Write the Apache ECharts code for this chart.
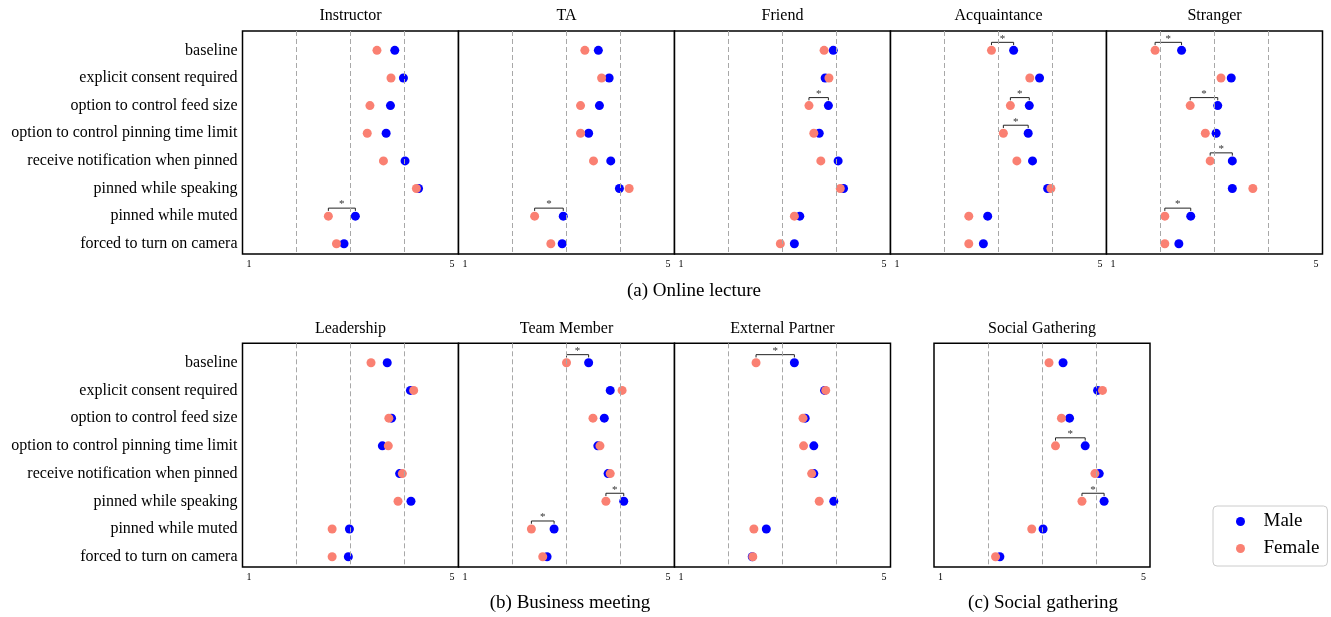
<!DOCTYPE html>
<html>
<head>
<meta charset="utf-8">
<script src="https://cdn.jsdelivr.net/npm/echarts@6/dist/echarts.min.js"></script>
<style>
  html, body { margin: 0; padding: 0; background: #fff; }
  #chart { width: 1331px; height: 617px; }
</style>
</head>
<body>
<div id="chart"></div>
<script>
// Rating statements (rows, top to bottom)
const categories = [
  'baseline',
  'explicit consent required',
  'option to control feed size',
  'option to control pinning time limit',
  'receive notification when pinned',
  'pinned while speaking',
  'pinned while muted',
  'forced to turn on camera'
];
const xTickLabels = [1, 5];
const guideValues = [2, 3, 4];

// Mean ratings per relationship, by gender (row order as in categories)
const maleInstructor   = [3.82, 3.98, 3.74, 3.66, 4.01, 4.26, 3.09, 2.88];
const femaleInstructor = [3.49, 3.75, 3.36, 3.31, 3.61, 4.22, 2.59, 2.74];
const sigInstructor    = [6];

const maleTA   = [3.59, 3.79, 3.61, 3.41, 3.82, 3.98, 2.94, 2.92];
const femaleTA = [3.34, 3.65, 3.26, 3.26, 3.50, 4.16, 2.41, 2.71];
const sigTA    = [6];

const maleFriend   = [3.94, 3.79, 3.85, 3.68, 4.03, 4.13, 3.32, 3.22];
const femaleFriend = [3.77, 3.86, 3.49, 3.58, 3.71, 4.07, 3.22, 2.96];
const sigFriend    = [2];

const maleAcquaintance   = [3.28, 3.76, 3.57, 3.55, 3.63, 3.91, 2.80, 2.72];
const femaleAcquaintance = [2.87, 3.58, 3.22, 3.09, 3.34, 3.97, 2.45, 2.45];
const sigAcquaintance    = [0, 2, 3];

const maleStranger   = [2.39, 3.31, 3.06, 3.03, 3.33, 3.33, 2.56, 2.34];
const femaleStranger = [1.90, 3.12, 2.55, 2.83, 2.92, 3.71, 2.08, 2.08];
const sigStranger    = [0, 2, 4, 6];

const maleLeadership   = [3.68, 4.11, 3.76, 3.59, 3.91, 4.12, 2.98, 2.96];
const femaleLeadership = [3.38, 4.17, 3.71, 3.70, 3.96, 3.88, 2.66, 2.66];
const sigLeadership    = [];

const maleTeamMember   = [3.41, 3.81, 3.70, 3.58, 3.77, 4.06, 2.77, 2.64];
const femaleTeamMember = [3.00, 4.03, 3.49, 3.62, 3.81, 3.73, 2.35, 2.56];
const sigTeamMember    = [0, 5, 6];

const maleExternal   = [3.22, 3.78, 3.42, 3.58, 3.58, 3.95, 2.70, 2.44];
const femaleExternal = [2.51, 3.80, 3.38, 3.39, 3.54, 3.68, 2.47, 2.45];
const sigExternal    = [0];

const maleSocial   = [3.39, 4.03, 3.51, 3.80, 4.06, 4.15, 3.02, 2.22];
const femaleSocial = [3.13, 4.12, 3.36, 3.25, 3.98, 3.74, 2.81, 2.14];
const sigSocial    = [3, 5];

const panelTitles = ['Instructor', 'TA', 'Friend', 'Acquaintance', 'Stranger',
                     'Leadership', 'Team Member', 'External Partner', 'Social Gathering'];
const maleSets   = [maleInstructor, maleTA, maleFriend, maleAcquaintance, maleStranger,
                    maleLeadership, maleTeamMember, maleExternal, maleSocial];
const femaleSets = [femaleInstructor, femaleTA, femaleFriend, femaleAcquaintance, femaleStranger,
                    femaleLeadership, femaleTeamMember, femaleExternal, femaleSocial];
const sigSets    = [sigInstructor, sigTA, sigFriend, sigAcquaintance, sigStranger,
                    sigLeadership, sigTeamMember, sigExternal, sigSocial];
const captions = ['(a) Online lecture', '(b) Business meeting', '(c) Social gathering'];

// ---- layout (pixels) ----
const W = 216;
const rowTop = [31, 343.3];
const rowH = [223, 223.7];
const layout = [
  { left: 242.5, row: 0, yLabels: true },
  { left: 458.5, row: 0 },
  { left: 674.5, row: 0 },
  { left: 890.5, row: 0 },
  { left: 1106.5, row: 0 },
  { left: 242.5, row: 1, yLabels: true },
  { left: 458.5, row: 1 },
  { left: 674.5, row: 1 },
  { left: 934, row: 1 }
];
const captionPos = [[694, 291], [570, 603], [1043, 603]];

const FONT = 'Liberation Serif, Times New Roman, serif';
const MALE_COLOR = '#0000ff';
const FEMALE_COLOR = '#fa8072';

const grids = [], xAxes = [], yAxes = [], series = [], titles = [];

layout.forEach((p, i) => {
  grids.push({
    left: p.left, top: rowTop[p.row], width: W, height: rowH[p.row],
    show: true, borderColor: '#000', borderWidth: 1.5, backgroundColor: '#fff',
    containLabel: false, outerBoundsMode: 'none'
  });
  xAxes.push({
    type: 'value', gridIndex: i, min: 1, max: 5, interval: 1,
    axisLine: { show: false }, axisTick: { show: false }, splitLine: { show: false },
    axisLabel: {
      margin: 5, color: '#000', fontFamily: FONT, fontSize: 10,
      formatter: v => v === xTickLabels[0] ? '{l|' + v + '}' : (v === xTickLabels[1] ? '{r|' + v + '}' : ''),
      rich: {
        l: { padding: [0, 0, 0, 13], fontFamily: FONT, fontSize: 10, color: '#000' },
        r: { padding: [0, 13, 0, 0], fontFamily: FONT, fontSize: 10, color: '#000' }
      }
    }
  });
  yAxes.push({
    type: 'value', gridIndex: i, min: -0.7, max: 7.37, inverse: true,
    axisLine: { show: false }, axisTick: { show: false }, splitLine: { show: false },
    axisLabel: {
      show: !!p.yLabels, margin: 5, color: '#000', fontFamily: FONT, fontSize: 16,
      customValues: categories.map((_, k) => k),
      formatter: v => categories[Math.round(v)] || ''
    }
  });
  titles.push({
    text: panelTitles[i], left: p.left + W / 2, top: rowTop[p.row] - 15,
    textAlign: 'center', textVerticalAlign: 'middle', padding: 0,
    textStyle: { fontFamily: FONT, fontSize: 16, fontWeight: 'normal', color: '#000' }
  });

  // dashed reference lines at the interior ticks
  series.push({
    type: 'scatter', name: 'guides', xAxisIndex: i, yAxisIndex: i, data: [], z: 1, silent: true,
    markLine: {
      silent: true, symbol: ['none', 'none'], label: { show: false },
      lineStyle: { color: '#a8a8a8', type: [5, 3], width: 1 },
      emphasis: { disabled: true },
      data: guideValues.map(v => ({ xAxis: v }))
    }
  });
  series.push({
    type: 'scatter', name: 'Male', xAxisIndex: i, yAxisIndex: i, z: 3, silent: true,
    symbolSize: 9, itemStyle: { color: MALE_COLOR, opacity: 1 },
    data: maleSets[i].map((v, r) => [v, r])
  });
  series.push({
    type: 'scatter', name: 'Female', xAxisIndex: i, yAxisIndex: i, z: 3, silent: true,
    symbolSize: 9, itemStyle: { color: FEMALE_COLOR, opacity: 1 },
    data: femaleSets[i].map((v, r) => [v, r])
  });
  if (sigSets[i].length) {
    // bracket joining the two means of a significant gender difference
    series.push({
      type: 'custom', name: 'significance', xAxisIndex: i, yAxisIndex: i, z: 4, silent: true,
      data: sigSets[i].map(r => [femaleSets[i][r], maleSets[i][r], r]),
      encode: { x: [0, 1], y: 2 },
      renderItem: (params, api) => {
        const f = api.value(0), m = api.value(1), r = api.value(2);
        const a = api.coord([f, r - 0.19]);
        const b = api.coord([f, r - 0.29]);
        const c = api.coord([m, r - 0.29]);
        const d = api.coord([m, r - 0.19]);
        const s = api.coord([(f + m) / 2, r - 0.42]);
        return {
          type: 'group',
          children: [
            { type: 'polyline', shape: { points: [a, b, c, d] },
              style: { stroke: '#222', lineWidth: 1, fill: null } },
            { type: 'text', x: s[0], y: s[1],
              style: { text: '*', fill: '#333', font: '11px ' + FONT, align: 'center', verticalAlign: 'middle' } }
          ]
        };
      }
    });
  }
});

captions.forEach((c, k) => {
  titles.push({
    text: c, left: captionPos[k][0], top: captionPos[k][1],
    textAlign: 'center', textVerticalAlign: 'middle', padding: 0,
    textStyle: { fontFamily: FONT, fontSize: 19, fontWeight: 'normal', color: '#000' }
  });
});

const chart = echarts.init(document.getElementById('chart'), null, { renderer: 'canvas' });
chart.setOption({
  animation: false,
  backgroundColor: '#fff',
  title: titles,
  grid: grids,
  xAxis: xAxes,
  yAxis: yAxes,
  legend: {
    data: ['Male', 'Female'], orient: 'vertical', left: 1213, top: 506,
    icon: 'circle', itemWidth: 36, itemHeight: 9, itemGap: 0,
    padding: [2, 8, 4, 23], selectedMode: false,
    borderColor: '#cccccc', borderWidth: 1, borderRadius: 4, backgroundColor: '#fff',
    textStyle: { fontFamily: FONT, fontSize: 19, color: '#000', lineHeight: 27 }
  },
  series: series
});
</script>
</body>
</html>
